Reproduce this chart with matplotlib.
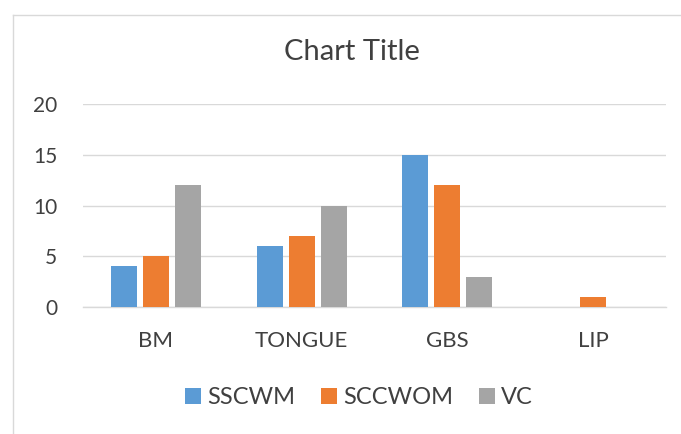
import matplotlib
matplotlib.use("Agg")
import numpy as np
import matplotlib.pyplot as plt
from matplotlib.lines import Line2D

plt.rcParams['font.family'] = ['Lato', 'DejaVu Sans']

# data
categories = ['BM', 'TONGUE', 'GBS', 'LIP']
series_names = ['SSCWM', 'SCCWOM', 'VC']
sscwm = [4, 6, 15, 0]
sccwom = [5, 7, 12, 1]
vc = [12, 10, 3, 0]
yticks = [0, 5, 10, 15, 20]

colors = ['#5B9BD5', '#ED7D31', '#A5A5A5']
text_col = '#404040'
grid_col = '#D9D9D9'

fig = plt.figure(figsize=(6.81, 4.34), dpi=100)
ax = fig.add_axes([83 / 681, 1 - 307 / 434, (666 - 83) / 681, (307 - 104) / 434])

x = np.arange(len(categories))
width = 0.178
step = 0.22
for i, (vals, name) in enumerate(zip([sscwm, sccwom, vc], series_names)):
    ax.bar(x + (i - 1) * step, vals, width, color=colors[i], label=name, zorder=3)

ax.set_xlim(-0.5, len(categories) - 0.5)
ax.set_ylim(0, 20)
ax.set_yticks(yticks)
ax.set_xticks(x)
ax.set_xticklabels(categories)
ax.yaxis.grid(True, color=grid_col, linewidth=1.0, zorder=0)
ax.set_axisbelow(True)
for s in ['left', 'right', 'top']:
    ax.spines[s].set_visible(False)
ax.spines['bottom'].set_color(grid_col)
ax.spines['bottom'].set_linewidth(1.0)
ax.tick_params(axis='y', length=0, pad=18.5, labelsize=15, labelcolor=text_col)
ax.tick_params(axis='x', length=0, pad=17, labelsize=16, labelcolor=text_col)

fig.text(352 / 681, 1 - 52 / 434, 'Chart Title', ha='center', va='center',
         fontsize=21, color=text_col)

leg = fig.legend(loc='center', bbox_to_anchor=(359 / 681, 1 - 398 / 434), ncol=3,
                 frameon=False, fontsize=17, handlelength=0.68, handleheight=0.68,
                 handletextpad=0.25, columnspacing=1.1, borderaxespad=0)
for t in leg.get_texts():
    t.set_color(text_col)

# chart area border (extends beyond the image on right and bottom)
fig.add_artist(Line2D([13 / 681, 13 / 681], [1 - 15 / 434, -0.1], color=grid_col,
                      linewidth=1.0, transform=fig.transFigure))
fig.add_artist(Line2D([13 / 681, 1.1], [1 - 15 / 434, 1 - 15 / 434], color=grid_col,
                      linewidth=1.0, transform=fig.transFigure))

fig.savefig('out.png', dpi=100)
